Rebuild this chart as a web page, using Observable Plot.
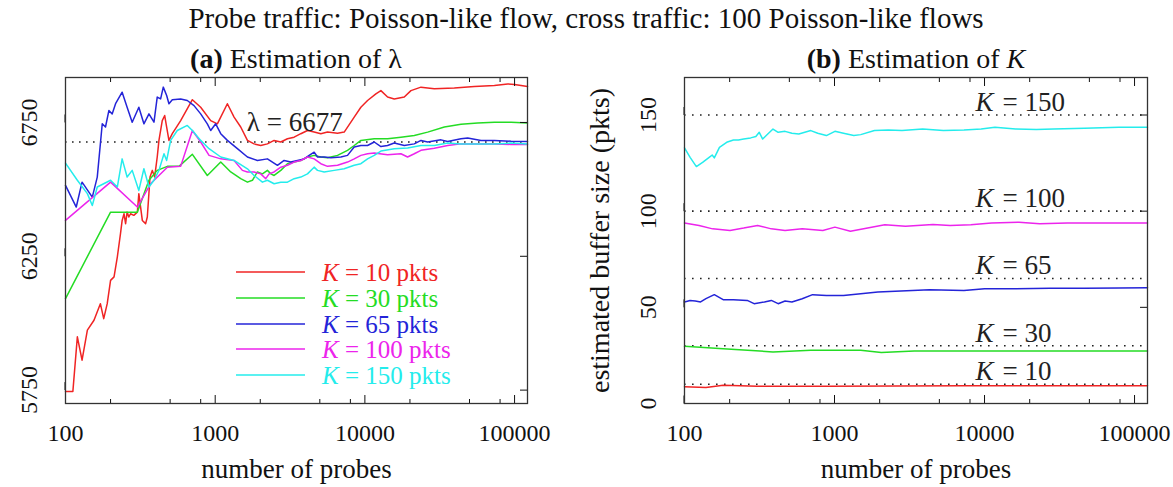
<!DOCTYPE html>
<html>
<head>
<meta charset="utf-8">
<script src="https://cdn.jsdelivr.net/npm/d3@7"></script>
<script src="https://cdn.jsdelivr.net/npm/@observablehq/plot@0.6"></script>
<style>
  html, body { margin: 0; padding: 0; background: #fff; }
  #root { position: relative; width: 1173px; height: 487px; overflow: hidden;
          font-family: "Liberation Serif", "Times New Roman", serif; color: #111; }
  .abs { position: absolute; white-space: nowrap; line-height: 1; }
  .panel { position: absolute; }
  .legend-row { position: absolute; display: flex; align-items: center; font-size: 25px; white-space: nowrap; }
</style>
</head>
<body>
<div id="root"></div>
<script>
// ---- data: (a) running estimate of lambda vs number of probes ----
const lamK10 = [[100,5745],[112,5745],[120,5949],[129,5862],[140,5974],[155,6011],[171,6073],[180,6017],[190,6073],[200,6160],[211,6173],[222,6248],[233,6335],[239,6384],[246,6409],[252,6372],[258,6415],[265,6397],[272,6409],[286,6403],[302,6415],[309,6484],[326,6384],[343,6372],[352,6397],[367,6546],[380,6571],[394,6546],[410,6621],[421,6683],[443,6757],[460,6776],[474,6733],[491,6683],[517,6708],[588,6757],[704,6835],[800,6807],[933,6757],[1034,6745],[1206,6820],[1337,6770],[1481,6733],[1642,6683],[1819,6670],[2015,6664],[2233,6670],[2475,6683],[2743,6677],[3039,6689],[3368,6695],[3732,6708],[4136,6720],[4583,6714],[5079,6708],[5628,6714],[6566,6710],[7276,6714],[8487,6770],[9402,6807],[10420,6832],[11843,6857],[12794,6869],[14178,6845],[15712,6838],[18330,6845],[20312,6869],[23694,6882],[29100,6876],[39590,6879],[53850,6884],[73300,6888],[90000,6894],[99750,6892],[110500,6888],[122000,6884]];
const lamK30 = [[100,6092],[200,6415],[302,6415],[361,6534],[410,6571],[479,6586],[573,6586],[704,6631],[886,6552],[1089,6602],[1270,6565],[1481,6540],[1642,6527],[1773,6534],[1914,6565],[2068,6558],[2233,6571],[2351,6558],[2475,6552],[2743,6571],[3039,6596],[3368,6602],[3732,6608],[4136,6621],[4583,6627],[5079,6621],[5628,6618],[6566,6627],[7657,6646],[8487,6664],[9402,6683],[11545,6689],[14178,6689],[17410,6695],[21380,6701],[26260,6714],[33950,6733],[43870,6743],[56700,6748],[73300,6751],[94750,6751],[122000,6748]];
const lamK65 = [[100,6515],[118,6434],[129,6527],[151,6471],[163,6546],[176,6745],[185,6733],[195,6795],[205,6782],[216,6820],[239,6863],[258,6807],[279,6751],[309,6807],[334,6745],[361,6782],[390,6751],[410,6845],[432,6838],[450,6882],[474,6851],[491,6820],[517,6835],[588,6838],[651,6832],[722,6813],[800,6782],[886,6745],[933,6720],[1008,6745],[1089,6708],[1206,6683],[1407,6652],[1642,6621],[1914,6608],[2233,6614],[2605,6590],[2887,6608],[3199,6602],[3545,6608],[3929,6614],[4243,6627],[4583,6639],[4825,6621],[5346,6621],[5925,6618],[6913,6621],[7657,6627],[8487,6658],[9402,6664],[10420,6664],[11545,6677],[12794,6660],[14178,6664],[15712,6673],[18330,6664],[21380,6670],[23694,6683],[26260,6677],[32250,6685],[35730,6679],[43870,6689],[48620,6692],[59700,6683],[73300,6683],[94750,6680],[122000,6679]];
const lamK100 = [[100,6384],[200,6527],[302,6434],[370,6521],[479,6583],[588,6586],[704,6720],[800,6677],[910,6627],[1089,6614],[1337,6608],[1520,6571],[1642,6565],[1819,6565],[2015,6558],[2177,6540],[2292,6558],[2475,6565],[2743,6583],[3039,6590],[3368,6602],[3732,6608],[4136,6621],[4583,6614],[5079,6596],[5628,6586],[6566,6590],[7657,6602],[8487,6614],[9402,6627],[10420,6633],[11545,6636],[14178,6629],[17410,6633],[19290,6621],[21380,6633],[23694,6646],[29100,6654],[35730,6664],[43870,6670],[53850,6670],[73300,6670],[94750,6668],[122000,6668]];
const lamK150 = [[100,6598],[120,6534],[140,6484],[151,6440],[163,6509],[200,6534],[222,6509],[239,6614],[258,6546],[279,6571],[309,6496],[334,6577],[361,6509],[390,6534],[421,6571],[455,6633],[474,6608],[504,6683],[558,6720],[651,6739],[704,6720],[800,6683],[910,6652],[1089,6621],[1337,6608],[1642,6577],[1819,6552],[2068,6527],[2233,6534],[2475,6521],[2743,6527],[3039,6527],[3368,6540],[3732,6546],[4136,6558],[4583,6583],[4825,6571],[5346,6565],[6235,6571],[7276,6577],[8487,6590],[9402,6596],[10420,6614],[11545,6627],[12794,6643],[15712,6652],[19290,6655],[23694,6664],[29100,6664],[35730,6673],[43870,6670],[59700,6670],[73300,6670],[94750,6673],[122000,6670]];

// ---- data: (b) running estimate of the buffer size K ----
const bufK10 = [[100,8.7],[139,8.3],[181,9.5],[307,9.0],[882,9.0],[7295,9.2],[122000,9.2]];
const bufK30 = [[100,29.8],[181,28.5],[389,26.8],[695,27.7],[1495,27.7],[2050,26.5],[3400,27.3],[7295,27.3],[22123,27.3],[122000,27.3]];
const bufK65 = [[100,52.8],[109,53.6],[118,53.3],[128,52.8],[139,54.5],[158,56.6],[181,54],[212,54],[262,53.6],[291,51.9],[341,52.8],[379,53.6],[421,51.9],[468,53.3],[520,52.8],[609,54.5],[714,56.6],[882,56.2],[1148,56.1],[1495,57.1],[1947,58],[2536,58.3],[4300,59.2],[7295,58.8],[10016,59.7],[16115,59.7],[27330,59.9],[46340,59.9],[78640,60],[122000,60.2]];
const bufK100 = [[100,93.9],[125,92.6],[154,90.8],[201,90],[248,91.2],[307,92.6],[379,90.8],[468,90],[609,90.8],[836,90],[1006,91.7],[1276,89.6],[1662,91.3],[2164,92.9],[2972,92.2],[4534,93.1],[5905,92.6],[8106,92.9],[11130,93.8],[16980,94.3],[23320,93.4],[35580,93.8],[60360,93.8],[122000,93.9]];
const bufK150 = [[100,132.9],[109,128],[120,123.2],[132,125.4],[146,128],[153,129.2],[158,127.7],[171,133.2],[191,135.8],[212,137],[229,137],[248,137.5],[276,138.1],[299,138.8],[315,141],[332,137.5],[359,140.1],[389,142.7],[421,141],[468,141.5],[520,140.5],[578,140.1],[695,141.9],[773,140.5],[882,139.3],[1006,141.5],[1148,140.5],[1345,139.3],[1495,139.8],[1847,141.9],[2281,142.2],[2818,141.9],[3869,142.7],[5313,141.9],[7295,142.2],[9500,142.7],[11735,143.6],[16115,142.7],[22123,142.4],[28810,142.7],[46340,143.1],[78640,143.6],[122000,143.6]];

// ---- series, reference values and ticks ----
const bufferSizes = [10, 30, 65, 100, 150];
const seriesLabels = ["K = 10 pkts", "K = 30 pkts", "K = 65 pkts", "K = 100 pkts", "K = 150 pkts"];
const lambdaTrue = 6677;
const xMajorTicks = [100, 1000, 10000, 100000];
const xMinorTicks = [200, 500, 800, 2000, 5000, 8000, 20000, 50000, 80000];
const yTicksA = [5750, 6250, 6750];
const yTicksB = [0, 50, 100, 150];

const palette = ["#f02424", "#24dc24", "#2424d8", "#ec24ec", "#24ecec"];
const FONT = "'Liberation Serif', 'Times New Roman', serif";

function toRows(series) {
  return series.flatMap((pts, i) => pts.map(([n, v]) => ({n, v, k: bufferSizes[i]})));
}
const rowsA = toRows([lamK10, lamK30, lamK65, lamK100, lamK150]);
const rowsB = toRows([bufK10, bufK30, bufK65, bufK100, bufK150]);

// inward ticks on all four sides of a boxed panel
function boxAxes(yTicks) {
  const blank = () => "";
  return [
    Plot.axisX({anchor: "bottom", ticks: xMajorTicks, tickSize: -8, tickPadding: 28, tickFormat: d => String(d), label: null}),
    Plot.axisX({anchor: "bottom", ticks: xMinorTicks, tickSize: -4, tickFormat: blank, label: null}),
    Plot.axisX({anchor: "top", ticks: xMajorTicks, tickSize: -8, tickFormat: blank, label: null}),
    Plot.axisX({anchor: "top", ticks: xMinorTicks, tickSize: -4, tickFormat: blank, label: null}),
    Plot.axisY({anchor: "left", ticks: yTicks, tickSize: -8, tickPadding: 37, tickFormat: d => String(d),
                rotate: -90, textAnchor: "middle", lineAnchor: "bottom", label: null}),
    Plot.axisY({anchor: "right", ticks: yTicks, tickSize: -8, tickFormat: blank, label: null}),
    Plot.frame({stroke: "#333", strokeWidth: 1.3})
  ];
}

const common = {
  height: 427,
  marginTop: 17,
  marginBottom: 84,
  x: {type: "log", domain: [100, 122000]},
  color: {domain: bufferSizes, range: palette},
  style: {fontFamily: FONT, fontSize: "24px", color: "#111", background: "transparent", overflow: "visible"}
};

// (a) estimation of lambda
const plotA = Plot.plot({
  ...common,
  width: 560,
  marginLeft: 65,
  marginRight: 33,
  y: {domain: [5700, 6918]},
  marks: [
    Plot.ruleY([lambdaTrue], {stroke: "#222", strokeWidth: 1.6, strokeDasharray: "1.6,5.4"}),
    Plot.line(rowsA, {x: "n", y: "v", z: "k", stroke: "k", strokeWidth: 1.5}),
    Plot.text([lambdaTrue], {x: 3400, y: d => d, text: d => `λ = ${d}`, dy: -11, lineAnchor: "bottom",
                             textAnchor: "middle", fontSize: 27, fill: "#222"}),
    Plot.text(["number of probes"], {frameAnchor: "bottom", text: d => d, dy: 74, lineAnchor: "bottom", fontSize: 27}),
    ...boxAxes(yTicksA)
  ]
});

// (b) estimation of K
const plotB = Plot.plot({
  ...common,
  width: 593,
  marginLeft: 104,
  marginRight: 26,
  y: {domain: [0, 169.5]},
  marks: [
    Plot.ruleY(bufferSizes, {stroke: "#222", strokeWidth: 1.6, strokeDasharray: "1.6,6.4"}),
    Plot.line(rowsB, {x: "n", y: "v", z: "k", stroke: "k", strokeWidth: 1.5}),
    Plot.text(bufferSizes, {x: 8700, y: d => d, text: () => "K", fontStyle: "italic", dy: -4,
                            lineAnchor: "bottom", textAnchor: "start", fontSize: 27, fill: "#222"}),
    Plot.text(bufferSizes, {x: 8700, y: d => d, text: d => `= ${d}`, dx: 27, dy: -4,
                            lineAnchor: "bottom", textAnchor: "start", fontSize: 27, fill: "#222"}),
    Plot.text(["number of probes"], {frameAnchor: "bottom", text: d => d, dy: 74, lineAnchor: "bottom", fontSize: 27}),
    Plot.text(["estimated buffer size (pkts)"], {frameAnchor: "left", text: d => d, dx: -76, rotate: -90,
                                                 textAnchor: "middle", lineAnchor: "bottom", fontSize: 28}),
    ...boxAxes(yTicksB)
  ]
});

const root = document.getElementById("root");

function place(el, left, top) {
  el.classList.add("panel");
  el.style.left = left + "px";
  el.style.top = top + "px";
  root.appendChild(el);
}
place(plotA, 0, 60);
place(plotB, 580, 60);

function addText(html, cx, baseline, size) {
  const d = document.createElement("div");
  d.className = "abs";
  d.innerHTML = html;
  d.style.fontSize = size + "px";
  d.style.left = cx + "px";
  d.style.top = (baseline - size * 0.89) + "px";
  d.style.transform = "translateX(-50%)";
  root.appendChild(d);
}
addText("Probe traffic: Poisson-like flow, cross traffic: 100 Poisson-like flows", 586, 30, 29);
addText("<b>(a)</b> Estimation of λ", 296, 70, 28);
addText("<b>(b)</b> Estimation of <i>K</i>", 916, 70, 28);

// legend inside panel (a)
const legendTop = 272, legendStep = 25.8;
seriesLabels.forEach((label, i) => {
  const row = document.createElement("div");
  row.className = "legend-row";
  row.style.left = "236px";
  row.style.top = (legendTop + i * legendStep - 13) + "px";
  row.style.height = "26px";
  row.style.color = palette[i];
  const [k, rest] = [label.slice(0, 1), label.slice(1)];
  row.innerHTML = `<svg width="86" height="26"><line x1="0" x2="69" y1="13" y2="13" stroke="${palette[i]}" stroke-width="1.5"/></svg>` +
                  `<span style="line-height:26px; position:relative; top:1px"><i>${k}</i>${rest}</span>`;
  root.appendChild(row);
});
</script>
</body>
</html>
